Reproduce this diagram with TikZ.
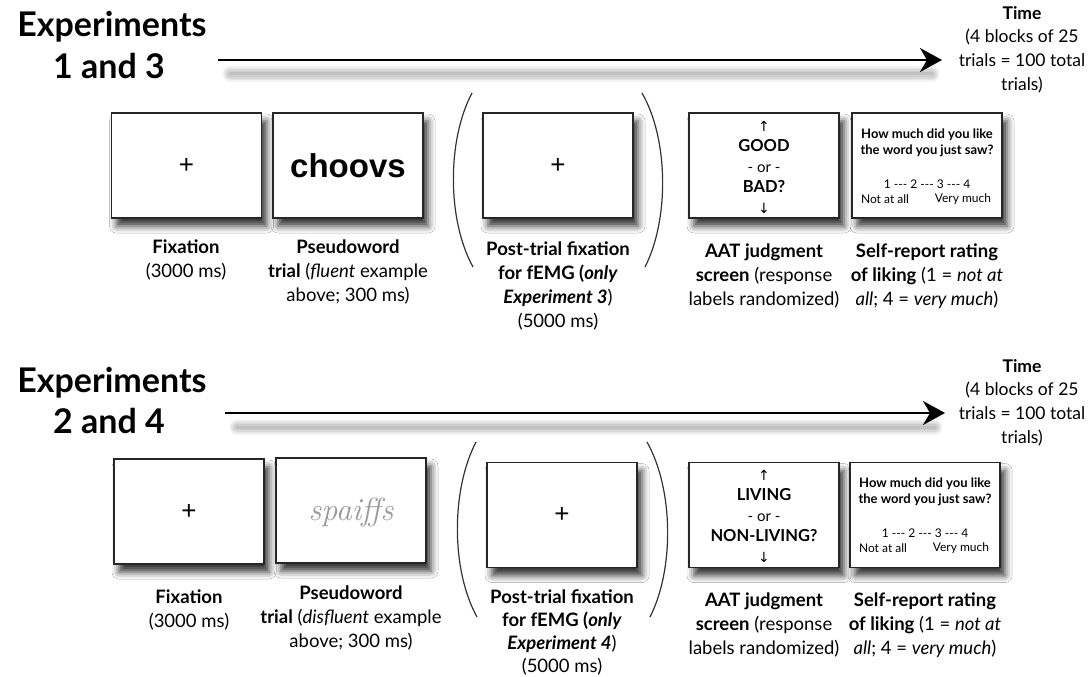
\documentclass[tikz,border=0pt]{standalone}
\usepackage{fontspec}
\setmainfont{Lato}
\newfontfamily\arialf{Liberation Sans}
\newfontfamily\djv{DejaVu Sans}
\newfontfamily\lmrf{Latin Modern Roman}
\usetikzlibrary{shadows.blur,arrows.meta}
\tikzset{
  screen/.style={draw=black!85, line width=1.3pt, fill=white, minimum width=150pt, minimum height=105pt, inner sep=0pt,
    blur shadow={shadow xshift=5pt, shadow yshift=-8pt, shadow blur radius=7pt, shadow opacity=80}},
  lab/.style={align=center, font=\fontsize{18.5}{24}\selectfont, inner sep=0pt, anchor=north},
  tlab/.style={align=center, font=\fontsize{17.5}{23.7}\selectfont, inner sep=0pt, anchor=north},
  title/.style={align=center, font=\fontsize{34}{41}\selectfont\bfseries, inner sep=0pt, anchor=base},
  timeline/.style={line width=2.4pt, -{Stealth[length=22pt,width=24pt,inset=7pt]}},
  tshadow/.style={line width=#1, draw=black, opacity=0.05, line cap=round},
  paren/.style={line width=1.2pt, draw=black!80},
  plus/.style={font=\arialf\fontsize{26}{26}\selectfont, inner sep=0pt},
  aat/.style={align=center, font=\fontsize{16.5}{20.5}\selectfont\bfseries, inner sep=0pt},
  qtext/.style={align=center, font=\fontsize{13}{16}\selectfont\bfseries, inner sep=0pt},
  stext/.style={font=\fontsize{12}{14}\selectfont, inner sep=0pt}
}
\newcommand{\upar}{{\djv\fontsize{14}{14}\selectfont\mdseries ↑}}
\newcommand{\dnar}{{\djv\fontsize{14}{14}\selectfont\mdseries ↓}}
\newcommand{\orline}{{\mdseries\fontsize{15}{15}\selectfont - or -}}
\newcommand{\tdash}{\mbox{-{}-{}-}}
\begin{document}
\begin{tikzpicture}[x=1pt,y=-1pt]
\useasboundingbox[fill=white] (0,0) rectangle (1092,677);

% ================= TOP ROW =================
\node[title] (t1a) at (112,37) {Experiments};
\node[title] (t1b) at (109,78) {1 and 3};
\coordinate (a1s) at (218,60);
\coordinate (a1e) at (942,60);
\foreach \w in {3,6,9,12,15} {\draw[tshadow=\w pt] (230,74) -- (932,74);}
\draw[timeline] (a1s) -- (a1e);
\node[tlab] (time1) at (1022,6) {\textbf{Time}\\(4 blocks of 25\\trials = 100 total\\trials)};

\node[screen] (s11) at (186.5,165.5) {};
\node[plus] at (s11) {+};
\node[screen] (s12) at (348,165.5) {};
\node[font=\arialf\bfseries\fontsize{33}{33}\selectfont, inner sep=0pt] (w1) at (348,166) {choovs};
\node[screen] (s13) at (558,165.5) {};
\node[plus] at (s13) {+};
\node[screen] (s14) at (764,165.5) {};
\node[aat] (aat1) at (764,167) {\upar\\GOOD\\\orline\\BAD?\\\dnar};
\node[screen] (s15) at (927,165.5) {};
\node[qtext] (q1) at (927,143) {How much did you like\\the word you just saw?};
\node[stext] (sc1) at (927,184) {1 \tdash{} 2 \tdash{} 3 \tdash{} 4};
\node[stext] (na1) at (885,199) {Not at all};
\node[stext] (vm1) at (963,199) {Very much};

\draw[paren] (472,93) .. controls (447,140) and (447,220) .. (473,267);
\draw[paren] (642,93) .. controls (669,140) and (669,220) .. (645,267);

\node[lab] (l11) at (186,240) {\textbf{Fixation}\\(3000 ms)};
\node[lab] (l12) at (348,240) {\textbf{Pseudoword}\\\textbf{trial} (\textit{fluent} example\\above; 300 ms)};
\node[lab] (l13) at (558,242) {\textbf{Post-trial fixation}\\\textbf{for fEMG (\textit{only}}\\\textbf{\textit{Experiment 3}})\\(5000 ms)};
\node[lab] (l14) at (764,244) {\textbf{AAT judgment}\\\textbf{screen} (response\\labels randomized)};
\node[lab] (l15) at (927,244) {\textbf{Self-report rating}\\\textbf{of liking} (1 = \textit{not at}\\\textit{all}; 4 = \textit{very much})};

% ================= BOTTOM ROW =================
\node[title] (t2a) at (112,392) {Experiments};
\node[title] (t2b) at (109,433) {2 and 4};
\coordinate (a2s) at (225,413);
\coordinate (a2e) at (945,413);
\foreach \w in {3,6,9,12,15} {\draw[tshadow=\w pt] (237,427) -- (935,427);}
\draw[timeline] (a2s) -- (a2e);
\node[tlab] (time2) at (1022,359) {\textbf{Time}\\(4 blocks of 25\\trials = 100 total\\trials)};

\node[screen] (s21) at (189,511.5) {};
\node[plus] at (s21) {+};
\node[screen] (s22) at (351,510.5) {};
\node[font=\lmrf\itshape\fontsize{32}{32}\selectfont, text=black!40, inner sep=0pt] (w2) at (351,512) {spaiffs};
\node[screen] (s23) at (562,515) {};
\node[plus] at (s23) {+};
\node[screen] (s24) at (764,515) {};
\node[aat] (aat2) at (764,516) {\upar\\LIVING\\\orline\\NON-LIVING?\\\dnar};
\node[screen] (s25) at (925,515) {};
\node[qtext] (q2) at (925,492) {How much did you like\\the word you just saw?};
\node[stext] (sc2) at (925,533) {1 \tdash{} 2 \tdash{} 3 \tdash{} 4};
\node[stext] (na2) at (883,548) {Not at all};
\node[stext] (vm2) at (961,548) {Very much};

\draw[paren] (476,442) .. controls (451,490) and (451,570) .. (477,617);
\draw[paren] (647,442) .. controls (674,490) and (674,570) .. (650,617);

\node[lab] (l21) at (189,590) {\textbf{Fixation}\\(3000 ms)};
\node[lab] (l22) at (351,586) {\textbf{Pseudoword}\\\textbf{trial} (\textit{disfluent} example\\above; 300 ms)};
\node[lab, font=\fontsize{18.5}{23}\selectfont] (l23) at (562,590) {\textbf{Post-trial fixation}\\\textbf{for fEMG (\textit{only}}\\\textbf{\textit{Experiment 4}})\\(5000 ms)};
\node[lab] (l24) at (764,593) {\textbf{AAT judgment}\\\textbf{screen} (response\\labels randomized)};
\node[lab] (l25) at (925,593) {\textbf{Self-report rating}\\\textbf{of liking} (1 = \textit{not at}\\\textit{all}; 4 = \textit{very much})};
\end{tikzpicture}
\end{document}
